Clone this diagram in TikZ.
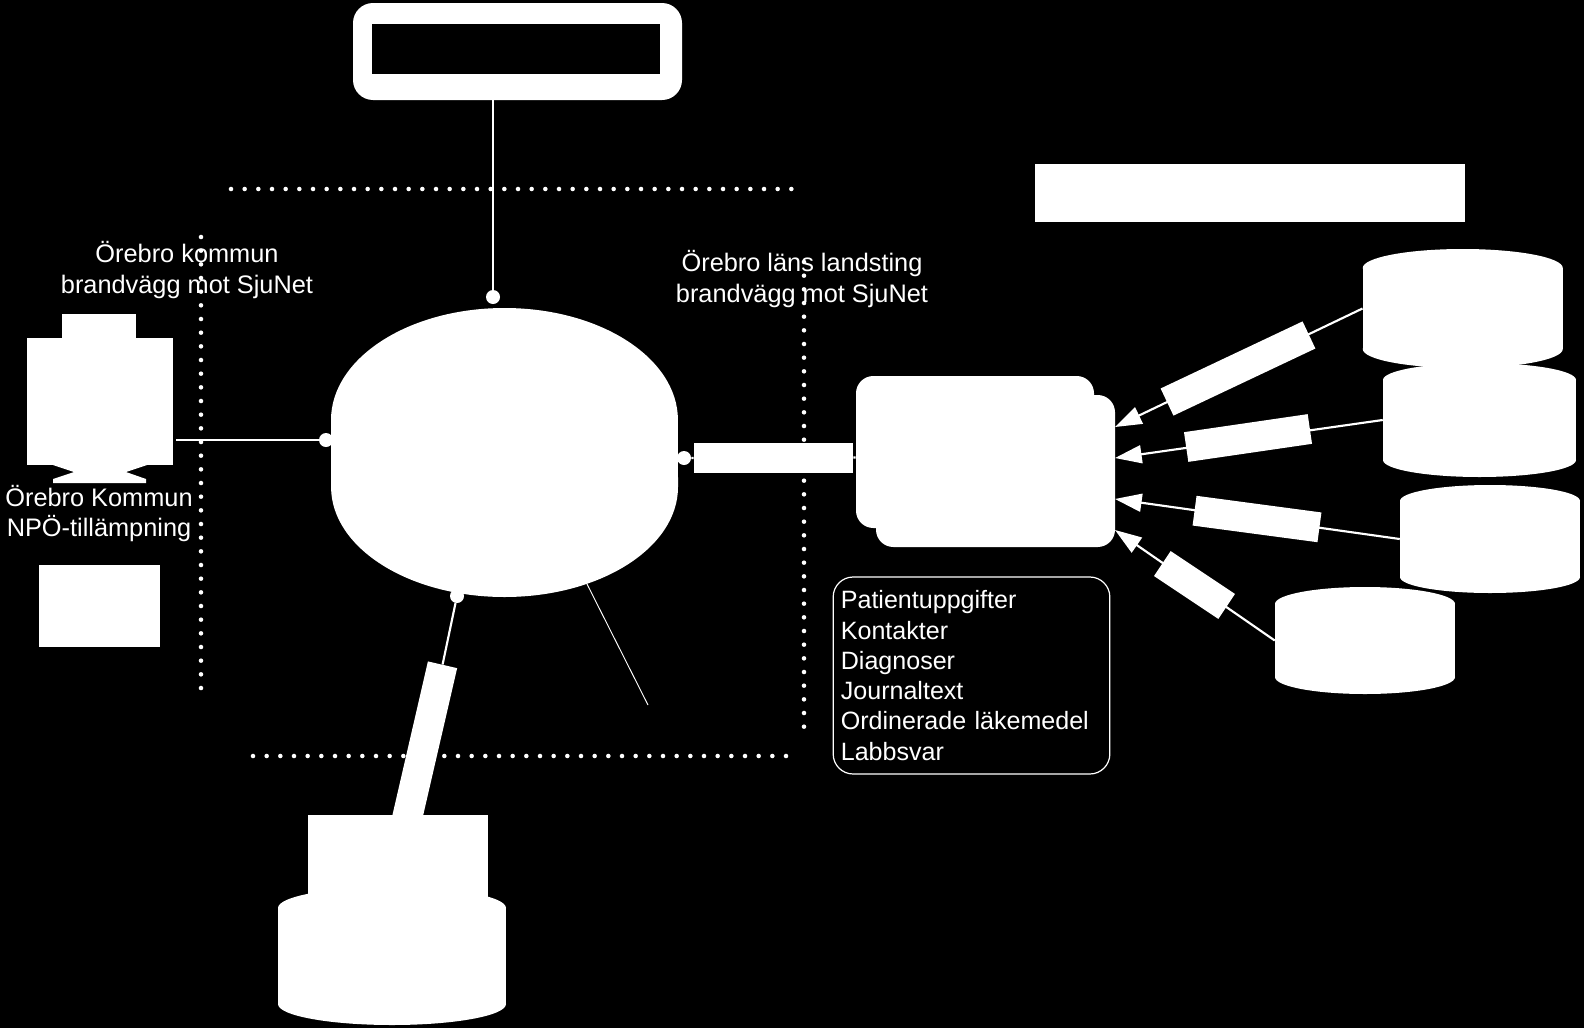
\documentclass[tikz,border=0pt]{standalone}
\usepackage{fontspec}
\setmainfont{Liberation Sans}
\usetikzlibrary{arrows.meta}

\begin{document}
\begin{tikzpicture}[x=0.75pt,y=-0.75pt,
  whitebox/.style={fill=white,inner sep=0pt},
  linkbar/.style={whitebox,minimum height=22.5pt},
  portdot/.style={circle,fill=white,minimum size=10.5pt,inner sep=0pt},
  linkline/.style={draw=white,line width=1.6pt},
  inarrow/.style={linkline,-{Triangle[length=20pt,width=13.5pt]}},
  fwline/.style={white,line width=3.4pt,line cap=round,dash pattern=on 0pt off 10.25pt},
  lbl/.style={text=white,align=center,inner sep=0pt,
    font=\fontsize{19pt}{22.8pt}\selectfont}
]
  % Background
  \fill[black] (0,0) rectangle (1584,1028);
  \useasboundingbox (0,0) rectangle (1584,1028);

  % Firewall lines
  \draw[fwline] (231,189) -- (795,189);
  \draw[fwline] (253,756) -- (788,756);
  \draw[fwline] (201,237) -- (201,691);
  \draw[fwline] (804,262) -- (804,729);

  % Top box
  \node[whitebox,rounded corners=15pt,minimum width=246.75pt,minimum height=72.75pt] (topbox) at (517.5,51.5) {};
  \node[fill=black,inner sep=0pt,minimum width=216pt,minimum height=37.5pt] (topboxin) at (516,49) {};
  \node[whitebox,minimum width=322.5pt,minimum height=43.5pt] (infobox) at (1250,193) {};

  % Hub
  \fill[white] (331,420) arc[start angle=180,end angle=0,x radius=130.1pt,y radius=84pt]
    -- (678,487) arc[start angle=0,end angle=-180,x radius=130.1pt,y radius=82.5pt] -- cycle;
  \node[portdot] (dottop) at (493,297) {};
  \node[portdot] (dotleft) at (326,440) {};
  \node[portdot] (dotright) at (684,458) {};
  \node[portdot] (dotbot) at (457,596) {};
  \draw[linkline] (dottop |- topbox.south) -- (dottop);

  % Municipality client
  \node[whitebox,minimum width=55.5pt,minimum height=18pt] (montop) at (99,326) {};
  \node[whitebox,minimum width=109.5pt,minimum height=95.25pt] (mon) at (100,401.5) {};
  \fill[white] (53,465) -- (74,472) -- (53,479) -- (53,483) -- (146,483) -- (146,479) -- (126,472) -- (147,465) -- cycle;
  \node[whitebox,minimum width=90.75pt,minimum height=61.5pt] (munbox) at (99.5,606) {};
  \coordinate (monline) at (176,440);
  \draw[linkline] (monline) -- (dotleft);
  \node[lbl] (munlabel) at (99,513.5) {Örebro Kommun\\NPÖ-tillämpning};
  \node[lbl] (munfw) at (187,270) {Örebro kommun\\brandvägg mot SjuNet};

  % Databases
  \node[whitebox,minimum width=135pt,minimum height=63.75pt] (dbtop) at (398,857.5) {};
  \foreach \nm/\cx/\ytop/\ybot/\rx/\ry in {dbbot/392/887/1025/114/21,db1/1462.75/249/368/100/19,
      db2/1479.5/363/477/96.5/17,db3/1490/485/593/90/16,db4/1365/587/694/90/17}{
    \pgfmathsetmacro{\rxpt}{0.75*\rx}
    \pgfmathsetmacro{\rypt}{0.75*\ry}
    \pgfmathsetmacro{\bodyht}{0.75*(\ybot-\ytop-2*\ry)}
    \fill[white] (\cx,\ytop+\ry) ellipse [x radius=\rxpt pt,y radius=\rypt pt];
    \fill[white] (\cx,\ybot-\ry) ellipse [x radius=\rxpt pt,y radius=\rypt pt];
    \node[whitebox,minimum width=2*\rxpt pt,minimum height=\bodyht pt] (\nm) at (\cx,{(\ytop+\ybot)/2}) {};
  }
  \node[linkbar,minimum width=123.5pt,rotate=77] (barbot) at (424,745) {};
  \draw[linkline] (dotbot) -- (barbot.east);

  % Note line
  \coordinate (notestart) at (587,584);
  \coordinate (noteend) at (648,705);
  \draw[white,line width=0.7pt] (notestart) -- (noteend);

  % Server
  \node[whitebox,rounded corners=13pt,minimum width=178.5pt,minimum height=114pt] (srvback) at (975,452) {};
  \node[whitebox,rounded corners=13pt,minimum width=179.25pt,minimum height=114pt] (srvfront) at (995.5,471) {};
  \node[linkbar,minimum width=119.25pt] (barright) at (773.5,457.5) {};
  \draw[linkline] (dotright) -- (barright) -- (srvback.west |- barright);
  \node[lbl] (llfw) at (802,279) {Örebro läns landsting\\brandvägg mot SjuNet};

  % Source arrows
  \coordinate (in1) at (1115,427);
  \coordinate (in2) at (1115,458);
  \coordinate (in3) at (1115,499);
  \coordinate (in4) at (1115,530);
  \draw[inarrow] (db1.west) -- (in1);
  \draw[inarrow] (db2.west) -- (in2);
  \draw[inarrow] (db3.west) -- (in3);
  \draw[inarrow] (db4.west) -- (in4);
  \node[linkbar,minimum width=117.75pt,rotate=25.3] (bar1) at (1238,368.5) {};
  \node[linkbar,minimum width=93.75pt,rotate=8.3] (bar2) at (1248,438) {};
  \node[linkbar,minimum width=94.5pt,rotate=-7.6] (bar3) at (1257,519) {};
  \node[linkbar,minimum width=58pt,rotate=-33.7] (bar4) at (1194.5,585) {};

  % Content list
  \node[draw=white,line width=0.9pt,rounded corners=15pt,text=white,align=left,
    minimum height=147.75pt,text width=196pt,inner xsep=5.75pt,inner ysep=0pt,
    font=\fontsize{18.8pt}{22.7pt}\selectfont] (content) at (971.5,675.5) {
    Patientuppgifter\\
    Kontakter\\
    Diagnoser\\
    Journaltext\\
    Ordinerade läkemedel\\
    Labbsvar};
\end{tikzpicture}
\end{document}
